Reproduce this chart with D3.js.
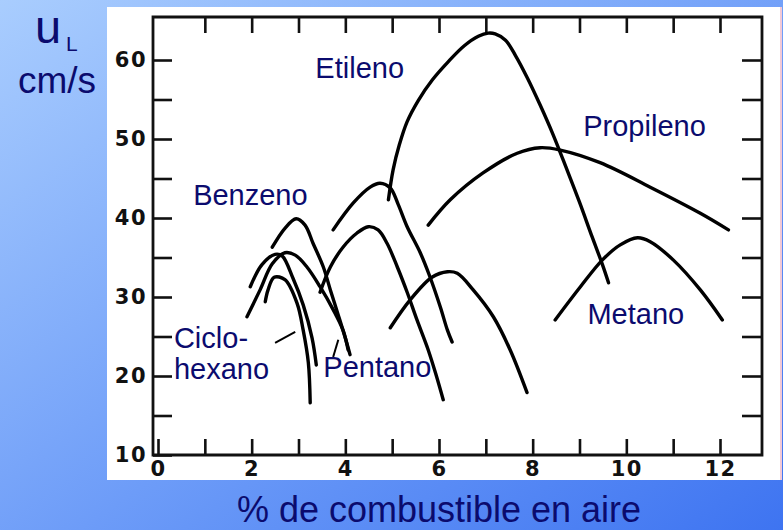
<!DOCTYPE html>
<html>
<head>
<meta charset="utf-8">
<script src="https://cdn.jsdelivr.net/npm/d3@7"></script>
<style>
  html, body { margin: 0; padding: 0; background: #fff; }
  svg { display: block; }
</style>
</head>
<body>
<svg id="chart" width="783" height="530"></svg>
<script>
// ---- data (x = % de combustible en aire, y = u_L cm/s) ----
const etileno = [[4.92,42.3],[5.02,46.1],[5.15,49.2],[5.32,52.2],[5.56,54.9],[5.86,57.5],[6.20,59.8],[6.54,61.8],[6.84,63.0],[7.05,63.4],[7.20,63.3],[7.42,62.5],[7.63,60.6],[7.89,57.7],[8.16,54.3],[8.44,50.5],[8.72,46.3],[9.00,42.0],[9.27,37.6],[9.49,34.1],[9.62,31.8]];
const propileno = [[5.77,39.1],[6.24,42.3],[6.94,45.7],[7.67,48.2],[8.16,48.9],[8.59,48.6],[9.44,47.0],[10.51,43.9],[11.58,40.6],[12.18,38.5]];
const metano = [[8.48,27.1],[9.02,31.3],[9.49,34.7],[9.87,36.6],[10.24,37.5],[10.51,37.0],[11.00,34.7],[11.58,30.9],[12.05,27.1]];
const curvaD = [[3.74,38.5],[4.17,41.9],[4.53,43.9],[4.74,44.4],[4.96,43.8],[5.13,41.7],[5.32,38.9],[5.60,35.6],[5.81,32.5],[6.03,28.7],[6.18,25.8],[6.28,24.3]];
const pentano = [[3.46,30.6],[3.68,33.8],[3.95,36.3],[4.25,38.1],[4.49,38.9],[4.70,38.5],[4.89,36.8],[5.11,33.8],[5.32,30.6],[5.53,27.1],[5.77,23.3],[5.94,20.1],[6.09,17.0]];
const curvaF = [[4.96,26.1],[5.38,29.6],[5.85,32.5],[6.18,33.2],[6.39,33.0],[6.73,30.9],[7.16,27.5],[7.52,23.3],[7.88,17.9]];
const benzeno = [[2.44,36.3],[2.71,38.7],[2.95,39.9],[3.14,39.1],[3.31,36.8],[3.53,33.8],[3.68,30.9],[3.85,27.7],[4.00,24.8],[4.10,22.7]];
const curvaA = [[1.90,27.5],[2.18,30.9],[2.44,34.2],[2.71,35.6],[2.93,35.3],[3.18,33.8],[3.46,31.3],[3.74,28.4],[3.95,25.8],[4.06,23.3]];
const curvaB = [[1.97,31.3],[2.22,34.1],[2.50,35.4],[2.65,35.2],[2.88,32.4],[3.10,29.0],[3.29,24.8],[3.38,21.4]];
const ciclohexano = [[2.29,29.4],[2.35,30.9],[2.48,32.5],[2.71,32.2],[2.97,29.2],[3.10,25.8],[3.21,21.7],[3.25,16.6]];
const series = [etileno, propileno, metano, curvaD, pentano, curvaF, benzeno, curvaA, curvaB, ciclohexano];

// pointer lines for labels
const punteroCiclo = [[2.50,24.2],[2.93,25.6]];
const punteroPentano = [[3.74,22.4],[3.85,24.6]];

// labels: [text, x, y] in data units
const etiquetas = [
  ["Etileno", 3.36, 57.7],
  ["Benzeno", 0.75, 41.6],
  ["Propileno", 9.08, 50.4],
  ["Metano", 9.17, 26.6],
  ["Ciclo-", 0.34, 23.5],
  ["hexano", 0.34, 19.6],
  ["Pentano", 3.53, 19.9]
];

const xTickValues = [0,1,2,3,4,5,6,7,8,9,10,11,12];
const xTickLabels = [0,2,4,6,8,10,12];
const yTickValues = [10,15,20,25,30,35,40,45,50,55,60];
const yTickLabels = [10,20,30,40,50,60];
const yTitle = "u";
const yTitleSub = "L";
const yUnits = "cm/s";
const xTitle = "% de combustible en aire";

// ---- drawing ----
const svg = d3.select("#chart");
const W = 783, H = 530;

const defs = svg.append("defs");
const grad = defs.append("linearGradient").attr("id","bg")
  .attr("x1","0").attr("y1","0").attr("x2","1").attr("y2","1");
grad.append("stop").attr("offset","0%").attr("stop-color","#a9cdfe");
grad.append("stop").attr("offset","55%").attr("stop-color","#6d9cf8");
grad.append("stop").attr("offset","100%").attr("stop-color","#3e74f1");
svg.append("rect").attr("width",W).attr("height",H).attr("fill","url(#bg)");

// white panel
svg.append("rect").attr("x",107).attr("y",7).attr("width",673).attr("height",473).attr("fill","#ffffff");
svg.append("rect").attr("x",780).attr("y",7).attr("width",2).attr("height",473).attr("fill","#f2c9d6");

const x = d3.scaleLinear().domain([0,12]).range([158,720]);
const y = d3.scaleLinear().domain([10,60]).range([455,60]);

const fL = 153, fR = 762, fT = 17, fB = 455;

const tickFont = "'DejaVu Sans', sans-serif";

// axes (ticks inward)
const gB = svg.append("g").attr("transform",`translate(0,${fB})`)
  .call(d3.axisBottom(x).tickValues(xTickValues).tickSize(-16).tickPadding(6)
    .tickFormat(d => xTickLabels.includes(d) ? d : ""));
const gT = svg.append("g").attr("transform",`translate(0,${fT})`)
  .call(d3.axisTop(x).tickValues(xTickValues.filter(d=>d>0)).tickSize(-16).tickFormat(""));
const gL = svg.append("g").attr("transform",`translate(${fL},0)`)
  .call(d3.axisLeft(y).tickValues(yTickValues).tickSize(-19).tickPadding(6)
    .tickFormat(d => yTickLabels.includes(d) ? d : ""));
const gR = svg.append("g").attr("transform",`translate(${fR},0)`)
  .call(d3.axisRight(y).tickValues(yTickValues.filter(d=>d>10)).tickSize(-20).tickFormat(""));

[gB,gT,gL,gR].forEach(g => {
  g.select(".domain").remove();
  g.selectAll(".tick line").attr("stroke","#111").attr("stroke-width",2.6);
  g.selectAll(".tick text").attr("font-family",tickFont).attr("font-weight","bold")
    .attr("font-size",21).attr("fill","#111").attr("letter-spacing","1.5");
});

// frame
svg.append("path")
  .attr("d",`M${fL},${fT}H${fR}V${fB}H${fL}Z`)
  .attr("fill","none").attr("stroke","#111").attr("stroke-width",2.8);

// curves
const line = d3.line().x(d=>x(d[0])).y(d=>y(d[1])).curve(d3.curveCatmullRom.alpha(0.5));
svg.append("g").selectAll("path").data(series).join("path")
  .attr("d",line).attr("fill","none").attr("stroke","#000")
  .attr("stroke-width",3.4).attr("stroke-linecap","round").attr("stroke-linejoin","round");

const straight = d3.line().x(d=>x(d[0])).y(d=>y(d[1]));
svg.append("g").selectAll("path").data([punteroCiclo,punteroPentano]).join("path")
  .attr("d",straight).attr("fill","none").attr("stroke","#000").attr("stroke-width",2);

// labels
const labFont = "'Liberation Sans', Arial, sans-serif";
const navy = "#0b0b6e";
svg.append("g").selectAll("text").data(etiquetas).join("text")
  .attr("x",d=>x(d[1])).attr("y",d=>y(d[2]))
  .attr("font-family",labFont).attr("font-size",29).attr("fill",navy)
  .text(d=>d[0]);

// axis titles
svg.append("text").attr("x",48).attr("y",43).attr("text-anchor","middle")
  .attr("font-family",labFont).attr("font-size",47).attr("fill",navy).text(yTitle);
svg.append("text").attr("x",66).attr("y",51)
  .attr("font-family",labFont).attr("font-size",21).attr("fill",navy).text(yTitleSub);
svg.append("text").attr("x",57).attr("y",93).attr("text-anchor","middle")
  .attr("font-family",labFont).attr("font-size",37).attr("fill",navy).text(yUnits);
svg.append("text").attr("x",439).attr("y",522).attr("text-anchor","middle")
  .attr("font-family",labFont).attr("font-size",36).attr("fill",navy).text(xTitle);
</script>
</body>
</html>
